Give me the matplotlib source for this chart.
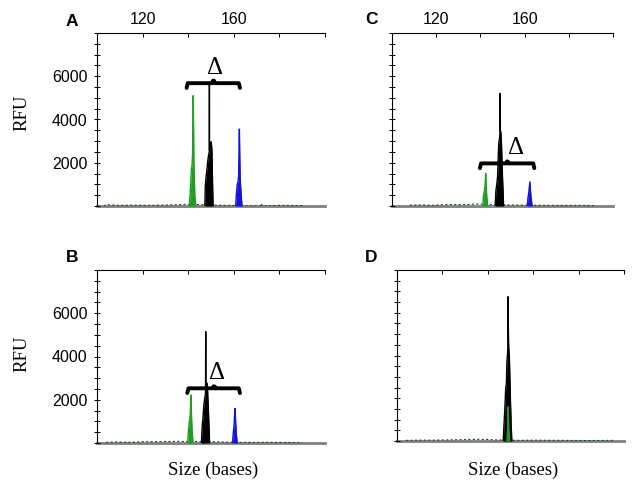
import numpy as np
import matplotlib.pyplot as plt
from matplotlib.ticker import MultipleLocator

# size axis (bases) and RFU scale
size_ticks = [100, 120, 140, 160, 180, 200]
size_labels = ['', '120', '', '160', '', '']
rfu_ticks = [2000, 4000, 6000]

# ---- panel A traces (size, RFU) ----
a_green_x = [140.5, 140.8, 141.1, 141.4, 141.7, 141.9, 142.1, 142.2, 142.3, 142.5, 142.7, 142.9, 143.3]
a_green_y = [0, 500, 1000, 1700, 1900, 2400, 4000, 5100, 4200, 2000, 1200, 500, 0]
a_black_x = [147.3, 147.5, 147.8, 148.2, 148.6, 149.0, 149.25, 149.3, 149.35, 149.6, 149.9, 150.1, 150.4, 150.6, 150.9]
a_black_y = [0, 900, 1300, 1700, 2100, 2400, 2500, 5650, 2600, 2700, 2850, 2970, 2600, 1500, 0]
a_blue_x = [160.8, 161.1, 161.5, 161.9, 162.1, 162.3, 162.45, 162.6, 162.8, 163.0, 163.3, 163.6]
a_blue_y = [0, 500, 1000, 1150, 1400, 2700, 3560, 2400, 1300, 900, 400, 0]
a_noise_x = [103, 104, 110, 118, 125, 131, 136, 139, 146, 153, 157, 171.5, 172, 172.5, 180, 190]
a_noise_y = [0, 60, 30, 40, 30, 50, 60, 80, 60, 40, 30, 0, 120, 0, 30, 20]
a_bracket = (139.3, 162.7, 5680)

# ---- panel B traces ----
b_green_x = [139.8, 140.1, 140.5, 140.9, 141.2, 141.4, 141.7, 142.1]
b_green_y = [0, 600, 1000, 1300, 2220, 1400, 600, 0]
b_black_x = [145.8, 146.1, 146.5, 146.9, 147.3, 147.6, 147.68, 147.75, 147.9, 148.2, 148.5, 148.8, 149.1, 149.4]
b_black_y = [0, 700, 1200, 1800, 2100, 2300, 5150, 2400, 2500, 2770, 2400, 1700, 800, 0]
b_blue_x = [159.4, 159.7, 160.1, 160.5, 160.8, 161.1, 161.5]
b_blue_y = [0, 400, 800, 1600, 1000, 400, 0]
b_noise_x = [104, 108, 114, 120, 126, 131, 135, 138, 151, 156, 165, 175, 190]
b_noise_y = [30, 50, 30, 60, 60, 70, 80, 70, 60, 40, 30, 30, 20]
b_bracket = (139.6, 162.7, 2530)

# ---- panel C traces ----
c_green_x = [141.1, 141.4, 141.8, 142.1, 142.4, 142.6, 142.9, 143.3]
c_green_y = [0, 500, 700, 950, 1510, 1000, 400, 0]
c_black_x = [146.7, 147.0, 147.4, 147.8, 148.1, 148.3, 148.6, 148.85, 148.95, 149.05, 149.3, 149.6, 149.9, 150.2, 150.5]
c_black_y = [0, 700, 1000, 1400, 2400, 2900, 3100, 3400, 5210, 3500, 3370, 2700, 1600, 800, 0]
c_blue_x = [161.2, 161.5, 161.9, 162.4, 162.7, 163.0, 163.4]
c_blue_y = [0, 350, 650, 1120, 650, 300, 0]
c_noise_x = [108, 114, 118, 123, 128, 132, 136, 139, 152, 158, 170, 182, 192]
c_noise_y = [40, 50, 30, 60, 70, 60, 80, 90, 50, 40, 30, 30, 20]
c_bracket = (139.8, 164.4, 1970)

# ---- panel D traces ----
d_black_x = [146.8, 147.1, 147.5, 147.9, 148.2, 148.4, 148.6, 148.8, 148.95, 149.05, 149.2, 149.5, 149.8, 150.0, 150.3, 150.6]
d_black_y = [0, 700, 1500, 2500, 2700, 3700, 3950, 4300, 6750, 5300, 4400, 3940, 2600, 1800, 700, 0]
d_green_x = [148.4, 148.8, 149.0, 149.2, 149.6]
d_green_y = [0, 600, 1600, 600, 0]
d_noise_x = [104, 110, 116, 122, 127, 132, 136, 140, 144, 154, 160, 172, 185, 195]
d_noise_y = [30, 40, 40, 50, 60, 70, 80, 70, 50, 30, 40, 30, 20, 30]

W, H = 638, 499
fig = plt.figure(figsize=(W / 100, H / 100), dpi=100)
sans = ['Liberation Sans', 'DejaVu Sans']
serif = ['Liberation Serif', 'DejaVu Serif']


def px_axes(left, right, top, bottom):
    return fig.add_axes([left / W, 1 - bottom / H, (right - left) / W, (bottom - top) / H])


def style(ax, xlabels, ylabels):
    ax.set_xlim(100, 200)
    ax.set_ylim(0, 8000)
    for s in ['right', 'bottom']:
        ax.spines[s].set_visible(False)
    for s in ['top', 'left']:
        ax.spines[s].set_linewidth(0.8)
    ax.xaxis.tick_top()
    ax.set_xticks(size_ticks)
    ax.set_xticklabels(size_labels if xlabels else [''] * len(size_ticks), family=sans, fontsize=11.5)
    ax.set_yticks(rfu_ticks)
    ax.set_yticklabels([str(v) for v in rfu_ticks] if ylabels else ['', '', ''], family=sans, fontsize=11.5)
    ax.yaxis.set_minor_locator(MultipleLocator(500))
    ax.tick_params(axis='x', direction='in', length=3, width=0.7, pad=4)
    ax.tick_params(axis='y', which='both', direction='inout', length=4, width=0.7, pad=5)
    ax.axhline(0, color='#808080', lw=2, clip_on=False, zorder=1)


def trace(ax, x, y, color):
    ax.fill_between(x, y, 0, color=color, lw=0, zorder=3)
    ax.plot(x, y, color=color, lw=1.0, zorder=3)


def noise(ax, x, y):
    ax.plot(x, y, color='#1e4a1e', lw=0.8, ls=(0, (2, 2)), zorder=2)


def bracket(ax, b, delta_dx=1.5):
    x0, x1, h = b
    xc = (x0 + x1) / 2
    d = 220
    bx = [x0, x0 + 0.5, xc - 0.6, xc, xc + 0.6, x1 - 0.5, x1]
    by = [h - d, h, h, h + 90, h, h, h - d]
    ax.plot(bx, by, color='black', lw=2.8, solid_capstyle='round', zorder=4)
    ax.plot([xc], [h + 80], 'o', color='black', ms=3, zorder=4)
    ax.text(xc + delta_dx, h + 200, '\u0394', ha='center', va='bottom',
            fontsize=18, family=serif, zorder=5)


ax_a = px_axes(97, 325, 33, 206)
style(ax_a, True, True)
noise(ax_a, a_noise_x, a_noise_y)
trace(ax_a, a_green_x, a_green_y, '#1f9e1f')
trace(ax_a, a_black_x, a_black_y, 'black')
trace(ax_a, a_blue_x, a_blue_y, '#1414d8')
bracket(ax_a, a_bracket, 1.0)

ax_c = px_axes(392, 613, 33, 206)
style(ax_c, True, False)
noise(ax_c, c_noise_x, c_noise_y)
trace(ax_c, c_green_x, c_green_y, '#1f9e1f')
trace(ax_c, c_black_x, c_black_y, 'black')
trace(ax_c, c_blue_x, c_blue_y, '#1414d8')
bracket(ax_c, c_bracket, 4.0)

ax_b = px_axes(97, 325, 270, 443)
style(ax_b, False, True)
noise(ax_b, b_noise_x, b_noise_y)
trace(ax_b, b_green_x, b_green_y, '#1f9e1f')
trace(ax_b, b_black_x, b_black_y, 'black')
trace(ax_b, b_blue_x, b_blue_y, '#1414d8')
bracket(ax_b, b_bracket, 1.5)

ax_d = px_axes(397, 624, 270, 441)
style(ax_d, False, False)
noise(ax_d, d_noise_x, d_noise_y)
trace(ax_d, d_black_x, d_black_y, 'black')
trace(ax_d, d_green_x, d_green_y, '#1f9e1f')

fig.text(22 / W, 1 - 113 / H, 'RFU', rotation=90, ha='center', va='center', fontsize=13.5, family=serif)
fig.text(22 / W, 1 - 354 / H, 'RFU', rotation=90, ha='center', va='center', fontsize=13.5, family=serif)
fig.text(213 / W, 1 - 470 / H, 'Size (bases)', ha='center', va='center', fontsize=13.5, family=serif)
fig.text(513 / W, 1 - 470 / H, 'Size (bases)', ha='center', va='center', fontsize=13.5, family=serif)

for lab, x, y in [('A', 72, 21), ('C', 371, 20), ('B', 72, 257), ('D', 371, 257)]:
    fig.text(x / W, 1 - y / H, lab, ha='center', va='center', fontsize=12.5,
             fontweight='bold', family=sans)

fig.savefig('out.png', dpi=100)
